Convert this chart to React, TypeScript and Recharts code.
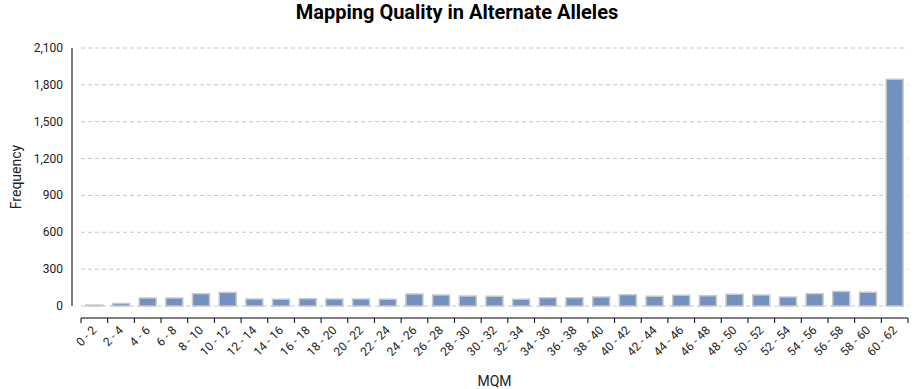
import { Bar, BarChart, CartesianGrid, XAxis, YAxis } from "recharts";

const categories = [
  "0 - 2", "2 - 4", "4 - 6", "6 - 8", "8 - 10", "10 - 12", "12 - 14", "14 - 16",
  "16 - 18", "18 - 20", "20 - 22", "22 - 24", "24 - 26", "26 - 28", "28 - 30",
  "30 - 32", "32 - 34", "34 - 36", "36 - 38", "38 - 40", "40 - 42", "42 - 44",
  "44 - 46", "46 - 48", "48 - 50", "50 - 52", "52 - 54", "54 - 56", "56 - 58",
  "58 - 60", "60 - 62",
];
const frequency = [
  8, 20, 65, 65, 100, 110, 57, 54, 60, 57, 57, 54, 98, 90, 81, 79, 54, 68, 68,
  73, 92, 80, 87, 84, 95, 90, 73, 100, 119, 111, 1845,
];
const yTicks = [0, 300, 600, 900, 1200, 1500, 1800, 2100];

const W = 914;
const H = 389;
const margin = { top: 48, right: 6, left: 0, bottom: 0 };
const Y_AXIS_W = 81;
const X_AXIS_H = 83;
const PLOT_W = W - margin.left - margin.right - Y_AXIS_W;
const PLOT_H = H - margin.top - margin.bottom - X_AXIS_H;
const BAND = PLOT_W / categories.length;

const data = categories.map((bin, i) => ({ bin, count: frequency[i] }));

// axis line sits 12px below the plot, ticks on the bin edges
function XTick(props: any) {
  const { x, y, index, payload } = props;
  const left = x - BAND / 2;
  const axisY = y + 12;
  const lx = x + 3;
  const ly = axisY + 13;
  return (
    <g>
      {index === 0 && (
        <line x1={left} x2={left + PLOT_W} y1={axisY} y2={axisY} stroke="#000" />
      )}
      <line x1={left} x2={left} y1={axisY} y2={axisY + 5} stroke="#000" />
      {index === categories.length - 1 && (
        <line x1={left + BAND} x2={left + BAND} y1={axisY} y2={axisY + 5} stroke="#000" />
      )}
      <text
        x={lx}
        y={ly}
        transform={`rotate(-45, ${lx}, ${ly})`}
        textAnchor="end"
        fontSize={12}
        fill="#222"
      >
        {payload.value}
      </text>
    </g>
  );
}

// y axis line offset 9px left of the plot
function YTick(props: any) {
  const { x, y, index, payload } = props;
  return (
    <g>
      {index === 0 && (
        <line x1={x - 9} x2={x - 9} y1={y} y2={y - PLOT_H} stroke="#000" />
      )}
      <text x={x - 18} y={y} dy={4} textAnchor="end" fontSize={12} fill="#222">
        {Number(payload.value).toLocaleString("en-US")}
      </text>
    </g>
  );
}

export default function App() {
  return (
    <div
      style={{
        position: "absolute",
        top: 0,
        left: 0,
        width: W,
        height: H,
        fontFamily: "Roboto, sans-serif",
        background: "#fff",
      }}
    >
      <BarChart
        width={W}
        height={H}
        data={data}
        margin={margin}
        barCategoryGap="18%"
      >
        <CartesianGrid stroke="#c8c8c8" strokeDasharray="4 3" vertical={false} />
        <YAxis
          domain={[0, 2100]}
          ticks={yTicks}
          width={Y_AXIS_W}
          axisLine={false}
          tickLine={false}
          tickSize={0}
          tickMargin={0}
          tick={<YTick />}
          label={{
            value: "Frequency",
            angle: -90,
            position: "insideLeft",
            offset: 16,
            style: { textAnchor: "middle", fontSize: 14, fill: "#222" },
          }}
        />
        <XAxis
          dataKey="bin"
          height={X_AXIS_H}
          interval={0}
          axisLine={false}
          tickLine={false}
          tickSize={0}
          tickMargin={0}
          tick={<XTick />}
          label={{
            value: "MQM",
            position: "insideBottom",
            offset: 3,
            style: { fontSize: 14, fill: "#222" },
          }}
        />
        <Bar
          dataKey="count"
          fill="#7391be"
          stroke="#c8c8c8"
          strokeWidth={1.5}
          isAnimationActive={false}
        />
      </BarChart>
      <div
        style={{
          position: "absolute",
          top: 2,
          left: 0,
          width: W,
          textAlign: "center",
          fontWeight: 700,
          fontSize: 20,
          lineHeight: "20px",
          color: "#000",
        }}
      >
        Mapping Quality in Alternate Alleles
      </div>
    </div>
  );
}
